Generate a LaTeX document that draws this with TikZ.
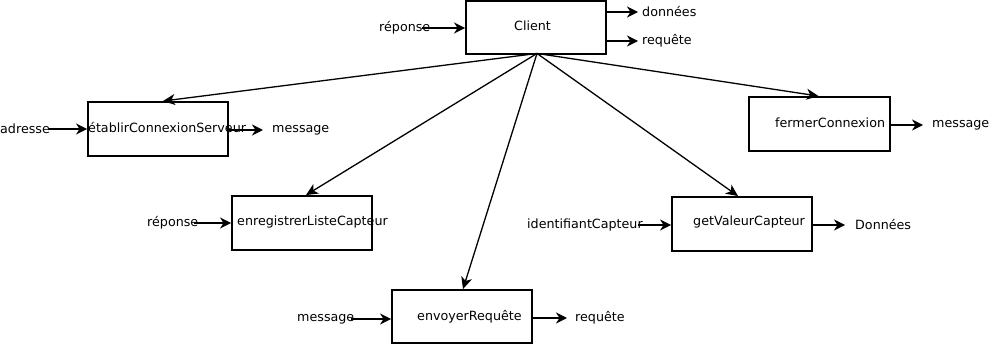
\documentclass[tikz,border=0pt]{standalone}
\usepackage{fontspec}
\setmainfont{DejaVu Sans}
\usetikzlibrary{arrows.meta}
\begin{document}
\begin{tikzpicture}[x=1pt,y=-1pt,
  font=\fontsize{12.7}{14}\selectfont,
  fn/.style={draw,line width=1.9pt,minimum width=140pt,minimum height=53pt,inner sep=0pt},
  txt/.style={anchor=west,inner sep=0pt},
  io/.style={line width=2pt,-{Stealth[length=11pt,width=11pt,inset=3.5pt]}},
  call/.style={line width=1.3pt,-{Stealth[length=12pt,width=11pt,inset=3.5pt]}}]
\useasboundingbox (0,0) rectangle (992,347);

% function boxes
\node[fn] (client) at (536,27.5) {};
\node[fn,minimum height=54pt] (etab) at (158,129) {};
\node[fn,minimum height=54pt] (enreg) at (302,223) {};
\node[fn] (envoi) at (462,316.5) {};
\node[fn,minimum height=54pt] (getv) at (742,224) {};
\node[fn,minimum width=141pt,minimum height=54pt] (ferm) at (819.5,124) {};

% box captions
\node[txt] (tclient) at (514,26) {Client};
\node[txt] (tetab) at (88,128) {établirConnexionServeur};
\node[txt] (tenreg) at (237,222) {enregistrerListeCapteur};
\node[txt] (tenvoi) at (417,317) {envoyerRequête};
\node[txt] (tgetv) at (693,222) {getValeurCapteur};
\node[txt] (tferm) at (775,123) {fermerConnexion};

% inputs and outputs
\node[txt] (rep1) at (379,28) {réponse};
\node[txt] (don) at (642,12) {données};
\node[txt] (req1) at (642,41) {requête};
\node[txt] (adr) at (0,129) {adresse};
\node[txt] (msg1) at (272,130) {message};
\node[txt] (rep2) at (147,223) {réponse};
\node[txt] (msg2) at (297,319) {message};
\node[txt] (req2) at (575,318) {requête};
\node[txt] (idc) at (527,225) {identifiantCapteur};
\node[txt] (donn) at (855,225) {Données};
\node[txt] (msg3) at (932,125) {message};

\draw[io] ([xshift=-8pt]rep1.east) -- (client.west |- rep1.east);
\draw[io] (client.east |- don.west) -- ([xshift=-4pt]don.west);
\draw[io] (client.east |- req1.west) -- ([xshift=-4pt]req1.west);
\draw[io] ([xshift=-2pt]adr.east) -- (etab.west |- adr.east);
\draw[io] (etab.east |- msg1.west) -- ([xshift=-9pt]msg1.west);
\draw[io] ([xshift=-4pt]rep2.east) -- (enreg.west |- rep2.east);
\draw[io] ([xshift=-3pt]msg2.east) -- (envoi.west |- msg2.east);
\draw[io] (envoi.east |- req2.west) -- ([xshift=-8pt]req2.west);
\draw[io] ([xshift=-5pt]idc.east) -- (getv.west |- idc.east);
\draw[io] (getv.east |- donn.west) -- ([xshift=-10pt]donn.west);
\draw[io] (ferm.east |- msg3.west) -- ([xshift=-9pt]msg3.west);

% calls from the client
\coordinate (src) at ([xshift=1pt,yshift=1.5pt]client.south);
\draw[call] (src) -- ([xshift=5pt]etab.north);
\draw[call] (src) -- ([xshift=4pt]enreg.north);
\draw[call] (src) -- ([xshift=1pt]envoi.north);
\draw[call] (src) -- ([xshift=-4pt]getv.north);
\draw[call] (src) -- ([xshift=-1pt]ferm.north);
\end{tikzpicture}
\end{document}
